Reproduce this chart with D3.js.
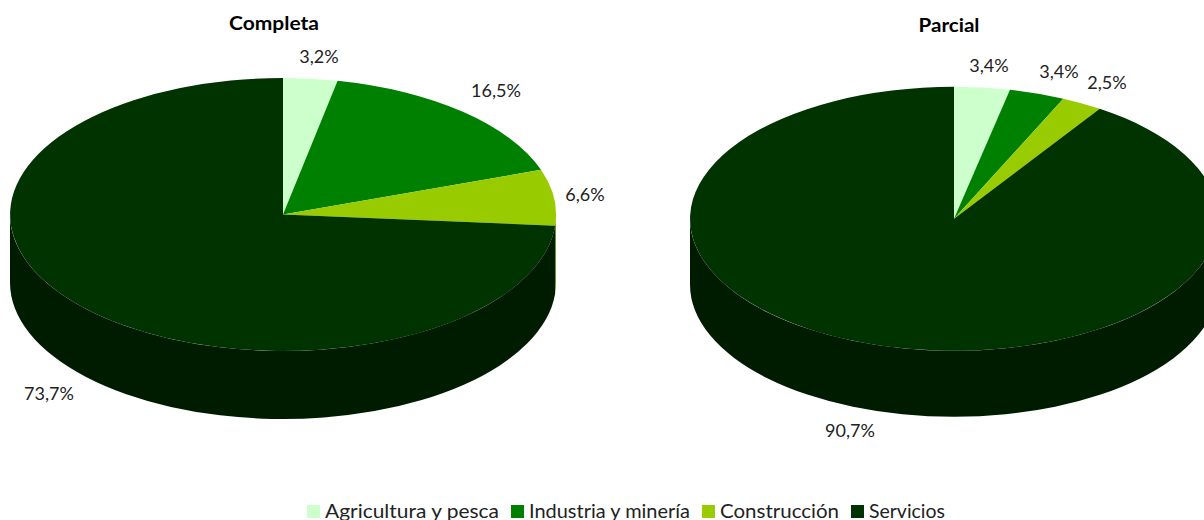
<!DOCTYPE html>
<html>
<head>
<meta charset="utf-8">
<script src="https://d3js.org/d3.v7.min.js"></script>
<style>
  html, body { margin: 0; padding: 0; background: #fff; overflow: hidden; }
  text { font-family: Lato, "Open Sans", sans-serif; fill: #222; }
</style>
</head>
<body>
<script>
const categories = ['Agricultura y pesca', 'Industria y minería', 'Construcción', 'Servicios'];
const completa = [3.2, 16.5, 6.6, 73.7];
const parcial = [3.4, 3.4, 2.5, 90.7];
const colors = ['#ccffcc', '#008000', '#99cc00', '#003300'];
const wallColors = ['#99bf99', '#006000', '#739900', '#001c00'];

const width = 1204;
const height = 520;

const svg = d3.select('body').append('svg')
  .attr('width', width)
  .attr('height', height);

const color = d3.scaleOrdinal().domain(categories).range(colors);
const wallColor = d3.scaleOrdinal().domain(categories).range(wallColors);
const fmt = v => v.toFixed(1).replace('.', ',') + '%';

const pie = d3.pie().sort(null);
const arc = d3.arc().innerRadius(0).outerRadius(1);

// side of the slice, only the part facing the viewer (pie angles 90 to 270 deg)
function wall(d, depth) {
  const a0 = Math.max(d.startAngle, Math.PI / 2) - Math.PI / 2;
  const a1 = Math.min(d.endAngle, Math.PI * 1.5) - Math.PI / 2;
  if (a1 <= a0) return null;
  const p = d3.path();
  p.arc(0, 0, 1, a0, a1, false);
  p.arc(0, depth, 1, a1, a0, true);
  p.closePath();
  return p.toString();
}

function drawPie(values, o) {
  const g = svg.append('g')
    .attr('transform', `translate(${o.cx},${o.cy}) scale(${o.rx},${o.ry})`);
  const slices = pie(values);

  g.selectAll('path.wall')
    .data(slices.filter(d => wall(d, o.depth / o.ry)))
    .enter()
    .append('path')
    .attr('class', 'wall')
    .attr('d', d => wall(d, o.depth / o.ry))
    .attr('fill', d => wallColor(categories[d.index]));

  g.selectAll('path.top')
    .data(slices)
    .enter()
    .append('path')
    .attr('class', 'top')
    .attr('d', arc)
    .attr('fill', d => color(categories[d.index]));

  svg.append('text')
    .text(o.title)
    .attr('x', o.titleX)
    .attr('y', o.titleY)
    .attr('text-anchor', 'middle')
    .attr('font-size', 19)
    .attr('font-weight', 700)
    .attr('textLength', o.titleW)
    .attr('lengthAdjust', 'spacingAndGlyphs')
    .style('fill', '#000');

  svg.selectAll('text.l' + o.id)
    .data(slices)
    .enter()
    .append('text')
    .attr('class', 'l' + o.id)
    .text(d => fmt(d.value))
    .attr('x', (d, i) => o.labels[i][0])
    .attr('y', (d, i) => o.labels[i][1])
    .attr('text-anchor', 'middle')
    .attr('font-size', 18);
}

drawPie(completa, {
  id: 'a', title: 'Completa', titleX: 274, titleY: 30, titleW: 90,
  cx: 283, cy: 214.5, rx: 273, ry: 136.5, depth: 68,
  labels: [[319, 63], [496, 97], [585, 201], [49, 400]]
});
drawPie(parcial, {
  id: 'b', title: 'Parcial', titleX: 949, titleY: 32, titleW: 61,
  cx: 954, cy: 218.8, rx: 264, ry: 132, depth: 66,
  labels: [[989, 72], [1059, 78], [1107, 89], [850, 437]]
});

// legend
const legendX = [307, 511, 702, 851];
const legendW = [174, 161, 119, 76];
const legend = svg.selectAll('g.legend')
  .data(categories)
  .enter()
  .append('g')
  .attr('class', 'legend')
  .attr('transform', (d, i) => `translate(${legendX[i]},505)`);
legend.append('rect')
  .attr('width', 13)
  .attr('height', 13)
  .attr('fill', d => color(d));
legend.append('text')
  .text(d => d)
  .attr('x', 18)
  .attr('y', 12.5)
  .attr('font-size', 19)
  .attr('textLength', (d, i) => legendW[i])
  .attr('lengthAdjust', 'spacingAndGlyphs');
</script>
</body>
</html>
